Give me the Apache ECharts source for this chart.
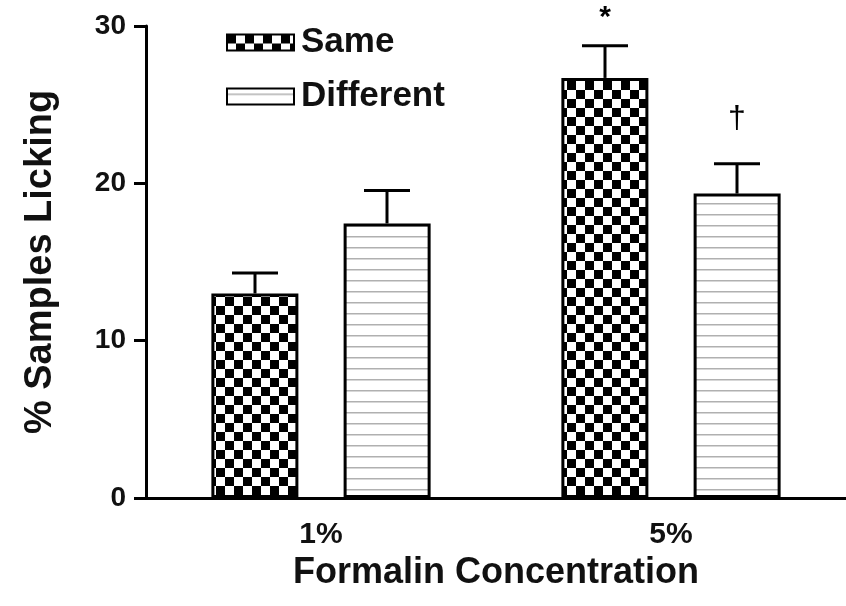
<!DOCTYPE html>
<html>
<head>
<meta charset="utf-8">
<script src="https://cdn.jsdelivr.net/npm/echarts@6/dist/echarts.min.js"></script>
<style>
  html, body { margin: 0; padding: 0; background: #fff; }
  #chart { width: 846px; height: 606px; }
</style>
</head>
<body>
<div id="chart"></div>
<script>
// ---- data ----
const categories = ['1%', '5%'];
const seriesNames = ['Same', 'Different'];
const sameValues = [13.0, 26.7];
const sameErrors = [1.3, 2.05];
const diffValues = [17.45, 19.35];
const diffErrors = [2.1, 1.9];
const sameMarks = ['', '*'];
const diffMarks = ['', '†'];
const yMin = 0, yMax = 30, yInterval = 10;

// ---- patterns ----
function checkerPattern() {
  const c = document.createElement('canvas');
  c.width = 18; c.height = 18;
  const g = c.getContext('2d');
  g.fillStyle = '#fff'; g.fillRect(0, 0, 18, 18);
  g.fillStyle = '#000';
  g.fillRect(0, 0, 9, 9);
  g.fillRect(9, 9, 9, 9);
  return c;
}
function linePattern() {
  const c = document.createElement('canvas');
  c.width = 4; c.height = 11;
  const g = c.getContext('2d');
  g.fillStyle = '#fff'; g.fillRect(0, 0, 4, 11);
  g.fillStyle = '#b0b0b0';
  g.fillRect(0, 5, 4, 1.5);
  return c;
}

const FONT = '"Liberation Sans", Arial, sans-serif';
const BAR_W = 87;
const BAR_OFFSET = 66;

function errorSeries(values, errors, marks, dx) {
  return {
    type: 'custom',
    z: 5,
    silent: true,
    data: values.map((v, i) => [i, v, errors[i]]),
    encode: { x: 0, y: 1 },
    renderItem: function (params, api) {
      const i = api.value(0);
      const v = api.value(1);
      const e = api.value(2);
      const mark = marks[params.dataIndex];
      const base = api.coord([i, v]);
      const top = api.coord([i, v + e]);
      const x = base[0] + dx;
      const children = [
        { type: 'line', shape: { x1: x, y1: base[1], x2: x, y2: top[1] },
          style: { stroke: '#000', lineWidth: 3 } },
        { type: 'line', shape: { x1: x - 23, y1: top[1], x2: x + 23, y2: top[1] },
          style: { stroke: '#000', lineWidth: 3 } }
      ];
      if (mark) {
        const star = mark === '*';
        children.push({
          type: 'text',
          style: { text: mark, x: x, y: top[1] - (star ? 28 : 44), align: 'center', verticalAlign: 'middle',
                   font: (star ? 'bold 30px ' : 'normal 32px ') + FONT, fill: '#000' }
        });
      }
      return { type: 'group', children: children };
    }
  };
}

const chart = echarts.init(document.getElementById('chart'), null, { renderer: 'canvas' });
chart.setOption({
  backgroundColor: '#fff',
  animation: false,
  grid: { left: 146, right: 0, top: 26, bottom: 108, containLabel: false },
  legend: {
    orient: 'vertical',
    left: 221,
    top: 20,
    itemWidth: 67,
    itemHeight: 16,
    itemGap: 19,
    icon: 'rect',
    textStyle: { fontFamily: FONT, fontSize: 35, fontWeight: 'bold', color: '#111', padding: [0, 0, 0, 2] },
    data: seriesNames
  },
  xAxis: {
    type: 'category',
    data: categories,
    axisLine: { lineStyle: { color: '#000', width: 3 } },
    axisTick: { alignWithLabel: true, length: 14, lineStyle: { color: '#000', width: 3 } },
    axisLabel: { fontFamily: FONT, fontSize: 30, fontWeight: 'bold', color: '#111', margin: 22 },
    name: 'Formalin Concentration',
    nameLocation: 'middle',
    nameGap: 46,
    nameTextStyle: { fontFamily: FONT, fontSize: 36, fontWeight: 'bold', color: '#111' }
  },
  yAxis: {
    type: 'value',
    min: yMin, max: yMax, interval: yInterval,
    splitLine: { show: false },
    axisLine: { show: true, lineStyle: { color: '#000', width: 3 } },
    axisTick: { show: true, length: 12, lineStyle: { color: '#000', width: 3 } },
    axisLabel: { fontFamily: FONT, fontSize: 28, fontWeight: 'bold', color: '#111', margin: 20 },
    name: '% Samples Licking',
    nameLocation: 'middle',
    nameGap: 86,
    nameTextStyle: { fontFamily: FONT, fontSize: 38, fontWeight: 'bold', color: '#111' }
  },
  series: [
    {
      name: seriesNames[0], type: 'bar', data: sameValues,
      barWidth: BAR_W, barGap: '52%',
      itemStyle: { color: { image: checkerPattern(), repeat: 'repeat' }, borderColor: '#000', borderWidth: 3 }
    },
    {
      name: seriesNames[1], type: 'bar', data: diffValues,
      barWidth: BAR_W, barGap: '52%',
      itemStyle: { color: { image: linePattern(), repeat: 'repeat' }, borderColor: '#000', borderWidth: 3 }
    },
    errorSeries(sameValues, sameErrors, sameMarks, -BAR_OFFSET),
    errorSeries(diffValues, diffErrors, diffMarks, BAR_OFFSET)
  ]
});
</script>
</body>
</html>
